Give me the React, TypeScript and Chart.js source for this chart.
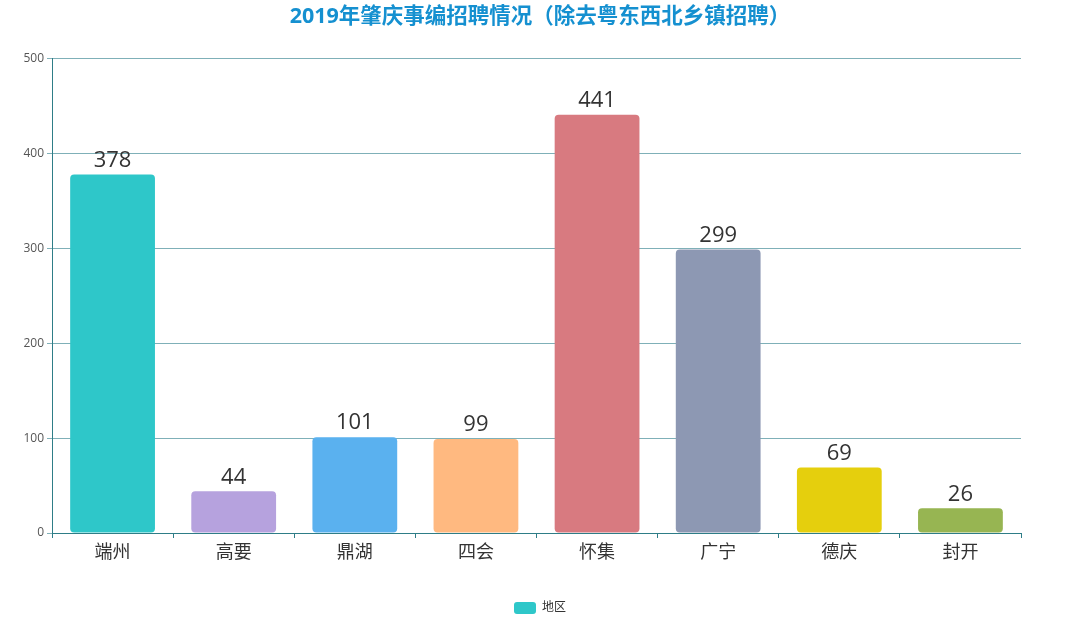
import React, { useEffect, useRef } from "react";
import { Chart, registerables } from "chart.js";

Chart.register(...registerables);

const titleText = "2019年肇庆事编招聘情况（除去粤东西北乡镇招聘）";
const seriesName = "地区";
const categories = ["端州", "高要", "鼎湖", "四会", "怀集", "广宁", "德庆", "封开"];
const values = [378, 44, 101, 99, 441, 299, 69, 26];
const barColors = ["#2ec7c9", "#b6a2de", "#5ab1ef", "#ffb980", "#d87a80", "#8d98b3", "#e5cf0d", "#97b552"];

const FONT = "'Open Sans', 'Noto Sans CJK SC', sans-serif";

const valueLabels = {
  id: "valueLabels",
  afterDatasetsDraw(chart: any) {
    const ctx = chart.ctx;
    const meta = chart.getDatasetMeta(0);
    ctx.save();
    ctx.font = `22px ${FONT}`;
    ctx.fillStyle = "#333";
    ctx.textAlign = "center";
    ctx.textBaseline = "bottom";
    meta.data.forEach((el: any, i: number) => {
      ctx.fillText(String(chart.data.datasets[0].data[i]), el.x, el.y - 3);
    });
    ctx.restore();
  },
};

export default function App() {
  const ref = useRef<HTMLCanvasElement>(null);
  useEffect(() => {
    const chart = new Chart(ref.current!, {
      type: "bar",
      data: {
        labels: categories,
        datasets: [
          {
            label: seriesName,
            data: values,
            backgroundColor: barColors,
            borderRadius: 4,
            borderSkipped: false,
            categoryPercentage: 0.7,
            barPercentage: 1,
            yAxisID: "y",
          },
        ],
      },
      options: {
        animation: false,
        responsive: false,
        layout: { padding: { left: 0, right: 0, top: 0, bottom: -6 } },
        plugins: {
          title: {
            display: true,
            text: titleText,
            color: "#1590d0",
            font: { family: FONT, size: 21.5, weight: "bold" },
            padding: { top: 4, bottom: 29 },
          },
          legend: {
            position: "bottom",
            labels: {
              boxWidth: 22,
              boxHeight: 12,
              padding: 5,
              useBorderRadius: true,
              borderRadius: 3,
              color: "#333",
              font: { family: FONT, size: 12 },
              generateLabels: (c: any) =>
                Chart.defaults.plugins.legend.labels.generateLabels(c).map((l: any) => ({
                  ...l,
                  fillStyle: barColors[0],
                  strokeStyle: barColors[0],
                  lineWidth: 0,
                })),
            },
          },
          tooltip: { enabled: false },
        },
        scales: {
          x: {
            afterFit: (s: any) => {
              s.height = 64;
            },
            grid: { display: true, drawOnChartArea: false, color: "#2e7d87", tickLength: 5, offset: true },
            border: { color: "#2e7d87", width: 1 },
            ticks: { color: "#333", font: { family: FONT, size: 18 }, padding: 4 },
          },
          y: {
            min: 0,
            max: 500,
            afterFit: (s: any) => {
              s.width = 52;
            },
            grid: { color: "#7fb0b8", tickLength: 5 },
            border: { color: "#2e7d87", width: 1 },
            ticks: { stepSize: 100, color: "#555", font: { family: FONT, size: 12 }, padding: 3 },
          },
          yRight: {
            position: "right",
            display: true,
            afterFit: (s: any) => {
              s.width = 59;
            },
            grid: { display: false, drawOnChartArea: false },
            border: { display: false },
            ticks: { display: false },
          },
        },
      },
      plugins: [valueLabels],
    });
    return () => chart.destroy();
  }, []);
  return (
    <div style={{ position: "fixed", left: 0, top: 0, width: 1080, height: 618, background: "#fff" }}>
      <canvas ref={ref} width={1080} height={618} />
    </div>
  );
}
